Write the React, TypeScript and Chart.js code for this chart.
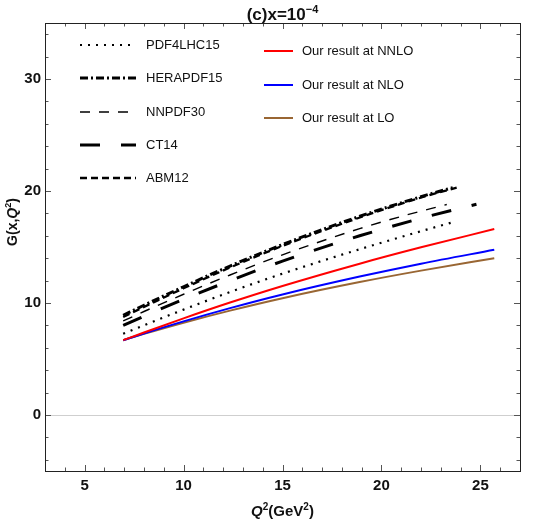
import React, { useEffect, useRef } from 'react';
import { Chart, registerables } from 'chart.js';

Chart.register(...registerables);

// Q^2 (GeV^2) sample points and gluon distribution values G(x, Q^2) at x = 1e-4
const q2Ours = [6.95, 8, 10, 12.35, 15, 18.9, 22, 25.7];
const ourNNLO = [6.68, 7.37, 8.63, 10.04, 11.52, 13.51, 14.97, 16.6];
const ourNLO = [6.68, 7.28, 8.36, 9.54, 10.76, 12.36, 13.51, 14.75];
const ourLO = [6.68, 7.24, 8.24, 9.32, 10.43, 11.87, 12.89, 14.0];

const q2PDF4LHC = [6.95, 8, 10, 12.35, 15, 18.9, 22, 23.7];
const pdf4lhc15 = [7.25, 8.01, 9.41, 10.98, 12.62, 14.8, 16.41, 17.26];

const q2HERA = [6.95, 8, 10, 12.35, 15, 18.8, 22.3, 23.6];
const herapdf15 = [8.9, 9.8, 11.45, 13.3, 15.22, 17.68, 19.65, 20.3];

const q2NNPDF = [6.95, 8, 10, 12.35, 15, 18.9, 21, 23.3];
const nnpdf30 = [8.4, 9.24, 10.78, 12.5, 14.3, 16.64, 17.73, 18.79];

const q2CT14 = [6.95, 8, 10, 12.35, 15, 18.9, 22.35, 24.8];
const ct14 = [8.0, 8.82, 10.32, 11.99, 13.74, 16.0, 17.73, 18.81];

const q2ABM = [6.95, 8, 10, 12.35, 15, 18.8, 22.3, 23.8];
const abm12 = [8.75, 9.65, 11.31, 13.17, 15.1, 17.57, 19.57, 20.3];

const xTicks = [5, 10, 15, 20, 25];
const yTicks = [0, 10, 20, 30];
const xRange = [3, 27];
const yRange = [-5, 35];
const xMinorStep = 1;
const yMinorStep = 2;

const FONT = '"Liberation Sans", Arial, Helvetica, sans-serif';

type Seg = { t: string; size: number; italic?: boolean; dy?: number };

function segFont(s: Seg) {
  return `${s.italic ? 'italic ' : ''}bold ${s.size}px ${FONT}`;
}

function drawRich(ctx: CanvasRenderingContext2D, segs: Seg[], cx: number, baseY: number) {
  let total = 0;
  for (const s of segs) {
    ctx.font = segFont(s);
    total += ctx.measureText(s.t).width;
  }
  let x = cx - total / 2;
  ctx.textAlign = 'left';
  ctx.textBaseline = 'alphabetic';
  for (const s of segs) {
    ctx.font = segFont(s);
    ctx.fillText(s.t, x, baseY + (s.dy || 0));
    x += ctx.measureText(s.t).width;
  }
}

const framePlugin = {
  id: 'frameTicks',
  afterDraw(chart: any) {
    const { ctx, chartArea: a, scales } = chart;
    const xs = scales.x;
    const ys = scales.y;
    ctx.save();
    ctx.strokeStyle = '#555';
    ctx.lineWidth = 1;
    const major = 6;
    const minor = 3.5;
    ctx.beginPath();
    for (let v = Math.ceil(xRange[0]); v <= xRange[1]; v += xMinorStep) {
      const px = Math.round(xs.getPixelForValue(v)) + 0.5;
      const len = xTicks.includes(v) ? major : minor;
      ctx.moveTo(px, a.bottom);
      ctx.lineTo(px, a.bottom - len);
      ctx.moveTo(px, a.top);
      ctx.lineTo(px, a.top + len);
    }
    for (let v = -4; v <= yRange[1]; v += yMinorStep) {
      const py = Math.round(ys.getPixelForValue(v)) + 0.5;
      const len = yTicks.includes(v) ? major : minor;
      ctx.moveTo(a.left, py);
      ctx.lineTo(a.left + len, py);
      ctx.moveTo(a.right, py);
      ctx.lineTo(a.right - len, py);
    }
    ctx.stroke();
    ctx.strokeStyle = '#222';
    ctx.strokeRect(Math.round(a.left) + 0.5, Math.round(a.top) + 0.5, Math.round(a.right - a.left), Math.round(a.bottom - a.top));
    ctx.restore();
  },
};

const legendPlugin = {
  id: 'twoColumnLegend',
  afterDraw(chart: any) {
    const { ctx } = chart;
    const ds = chart.data.datasets;
    const left = { x0: 80, x1: 136, tx: 146, rows: [45, 78, 112, 145, 178] };
    const right = { x0: 264, x1: 293, tx: 302, rows: [51, 85, 118] };
    ctx.save();
    const drawEntry = (d: any, x0: number, x1: number, tx: number, y: number) => {
      ctx.strokeStyle = d.borderColor;
      ctx.lineWidth = d.borderWidth;
      ctx.setLineDash(d.borderDash || []);
      ctx.beginPath();
      ctx.moveTo(x0, y);
      ctx.lineTo(x1, y);
      ctx.stroke();
      ctx.setLineDash([]);
      ctx.fillStyle = '#111';
      ctx.font = `13px ${FONT}`;
      ctx.textAlign = 'left';
      ctx.textBaseline = 'middle';
      ctx.fillText(d.label, tx, y);
    };
    ds.slice(0, 5).forEach((d: any, i: number) => drawEntry(d, left.x0, left.x1, left.tx, left.rows[i]));
    ds.slice(5).forEach((d: any, i: number) => drawEntry(d, right.x0, right.x1, right.tx, right.rows[i]));
    ctx.restore();
  },
};

const textPlugin = {
  id: 'richTitles',
  afterDraw(chart: any) {
    const { ctx, chartArea: a } = chart;
    const cx = (a.left + a.right) / 2;
    ctx.save();
    ctx.fillStyle = '#111';
    drawRich(ctx, [
      { t: '(c)x=10', size: 17 },
      { t: '\u22124', size: 11, dy: -7 },
    ], cx, 20);
    drawRich(ctx, [
      { t: 'Q', size: 15, italic: true },
      { t: '2', size: 10, dy: -6 },
      { t: '(GeV', size: 15 },
      { t: '2', size: 10, dy: -6 },
      { t: ')', size: 15 },
    ], cx, 516);
    ctx.translate(17, 222);
    ctx.rotate(-Math.PI / 2);
    drawRich(ctx, [
      { t: 'G(x,', size: 14 },
      { t: 'Q', size: 14, italic: true },
      { t: '2', size: 9, dy: -6 },
      { t: ')', size: 14 },
    ], 0, 0);
    ctx.restore();
  },
};

function pts(xs: number[], ys: number[]) {
  return xs.map((x, i) => ({ x, y: ys[i] }));
}

export default function App() {
  const ref = useRef<HTMLCanvasElement>(null);

  useEffect(() => {
    const common = {
      pointRadius: 0,
      fill: false,
      cubicInterpolationMode: 'monotone' as const,
    };
    const chart = new Chart(ref.current!, {
      type: 'line',
      data: {
        datasets: [
          { ...common, label: 'PDF4LHC15', data: pts(q2PDF4LHC, pdf4lhc15), borderColor: '#000', borderWidth: 2.2, borderDash: [2, 6] },
          { ...common, label: 'HERAPDF15', data: pts(q2HERA, herapdf15), borderColor: '#000', borderWidth: 3, borderDash: [8, 3, 2, 3] },
          { ...common, label: 'NNPDF30', data: pts(q2NNPDF, nnpdf30), borderColor: '#000', borderWidth: 1.4, borderDash: [10, 9] },
          { ...common, label: 'CT14', data: pts(q2CT14, ct14), borderColor: '#000', borderWidth: 3, borderDash: [20, 21] },
          { ...common, label: 'ABM12', data: pts(q2ABM, abm12), borderColor: '#000', borderWidth: 2.3, borderDash: [7, 4] },
          { ...common, label: 'Our result at NNLO', data: pts(q2Ours, ourNNLO), borderColor: '#ff0000', borderWidth: 2 },
          { ...common, label: 'Our result at NLO', data: pts(q2Ours, ourNLO), borderColor: '#0000ff', borderWidth: 2 },
          { ...common, label: 'Our result at LO', data: pts(q2Ours, ourLO), borderColor: '#996633', borderWidth: 2 },
        ],
      },
      options: {
        animation: false,
        responsive: false,
        maintainAspectRatio: false,
        layout: { padding: { left: 0, top: 23, right: 22, bottom: 0 } },
        plugins: {
          legend: { display: false },
          tooltip: { enabled: false },
          title: { display: false },
        },
        scales: {
          x: {
            type: 'linear',
            min: xRange[0],
            max: xRange[1],
            afterBuildTicks: (s: any) => {
              s.ticks = xTicks.map((v) => ({ value: v }));
            },
            afterFit: (s: any) => {
              s.height = 48;
            },
            grid: { display: false, drawTicks: false },
            border: { display: false },
            ticks: { color: '#111', padding: 6, font: { family: FONT, size: 15, weight: 'bold' } },
          },
          y: {
            type: 'linear',
            min: yRange[0],
            max: yRange[1],
            afterBuildTicks: (s: any) => {
              s.ticks = yTicks.map((v) => ({ value: v }));
            },
            afterFit: (s: any) => {
              s.width = 45;
            },
            grid: {
              drawTicks: false,
              color: (c: any) => (c.tick && c.tick.value === 0 ? '#cfcfcf' : 'rgba(0,0,0,0)'),
            },
            border: { display: false },
            ticks: { color: '#111', padding: 4, font: { family: FONT, size: 15, weight: 'bold' } },
          },
        },
      },
      plugins: [framePlugin, legendPlugin, textPlugin],
    } as any);
    return () => chart.destroy();
  }, []);

  return (
    <div style={{ position: 'fixed', left: 0, top: 0, width: 542, height: 519, background: '#fff' }}>
      <canvas ref={ref} width={542} height={519} style={{ display: 'block' }} />
    </div>
  );
}
